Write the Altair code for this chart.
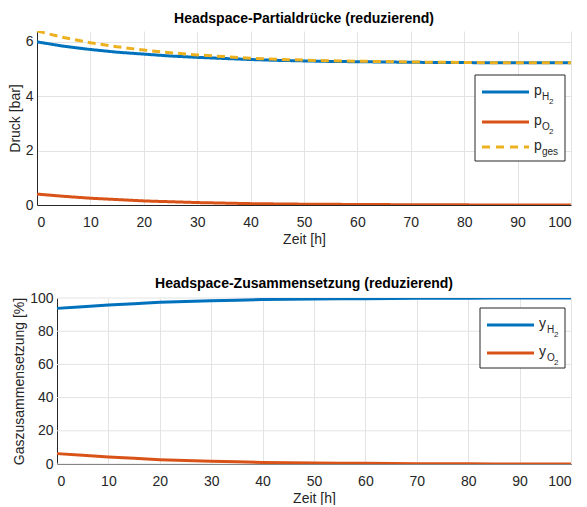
import altair as alt
import pandas as pd

# ---- data ----
t = [0, 5, 10, 15, 20, 25, 30, 35, 40, 45, 50, 55, 60, 65, 70, 75, 80, 85, 90, 95, 100]
p_h2 = [6.00, 5.84, 5.72, 5.62, 5.55, 5.48, 5.43, 5.39, 5.35, 5.32, 5.30, 5.28, 5.27, 5.26,
        5.25, 5.24, 5.24, 5.23, 5.23, 5.23, 5.23]
p_o2 = [0.40, 0.32, 0.25, 0.20, 0.15, 0.12, 0.09, 0.07, 0.05, 0.04, 0.03, 0.025, 0.02, 0.015,
        0.01, 0.008, 0.005, 0.003, 0.002, 0.001, 0.0]
p_ges = [6.40, 6.16, 5.97, 5.82, 5.70, 5.60, 5.52, 5.46, 5.40, 5.36, 5.33, 5.305, 5.29, 5.275,
         5.26, 5.248, 5.245, 5.233, 5.232, 5.231, 5.23]
y_h2 = [93.75, 94.8, 95.8, 96.6, 97.4, 97.9, 98.4, 98.7, 99.1, 99.25, 99.44, 99.53, 99.62,
        99.72, 99.81, 99.85, 99.9, 99.94, 99.96, 99.98, 100.0]
y_o2 = [6.25, 5.2, 4.2, 3.4, 2.6, 2.1, 1.6, 1.3, 0.9, 0.75, 0.56, 0.47, 0.38, 0.28, 0.19,
        0.15, 0.1, 0.06, 0.04, 0.02, 0.0]

x_ticks = [0, 10, 20, 30, 40, 50, 60, 70, 80, 90, 100]
top_y_ticks = [0, 2, 4, 6]
bot_y_ticks = [0, 20, 40, 60, 80, 100]

BLUE, RED, YELLOW = "#0072BD", "#D95319", "#EDB120"
GRID = "#e3e3e3"
FONT = "Liberation Sans"

top_df = pd.DataFrame(
    {"t": t * 3,
     "v": p_h2 + p_o2 + p_ges,
     "s": ["pH2"] * len(t) + ["pO2"] * len(t) + ["pges"] * len(t)}
)
bot_df = pd.DataFrame(
    {"t": t * 2,
     "v": y_h2 + y_o2,
     "s": ["yH2"] * len(t) + ["yO2"] * len(t)}
)

W = 534          # both panels end at the same right edge
SHIFT = 20       # lower panel's axes start further right
TH, BH = 174, 166


def legend(box, items):
    # box: (x0, y0, x1, y1) in pixels relative to plot area; items: (color, dash, main, sub1, sub2, y)
    one = pd.DataFrame({"a": [0]})
    x0, y0, x1, y1 = box
    layers = [
        alt.Chart(one).mark_rect(fill="white", stroke="#262626", strokeWidth=1).encode(
            x=alt.value(x0), x2=alt.value(x1), y=alt.value(y0), y2=alt.value(y1))
    ]
    for color, dash, main, sub1, sub2, yy in items:
        layers.append(alt.Chart(one).mark_rule(color=color, strokeWidth=3, strokeDash=dash).encode(
            x=alt.value(x0 + 7), x2=alt.value(x0 + 54), y=alt.value(yy)))
        tx = x0 + 59
        layers.append(alt.Chart(one).mark_text(text=main, font=FONT, fontSize=14, align="left",
                                               baseline="alphabetic", color="#262626").encode(
            x=alt.value(tx), y=alt.value(yy + 3)))
        layers.append(alt.Chart(one).mark_text(text=sub1, font=FONT, fontSize=10, align="left",
                                               baseline="alphabetic", color="#262626").encode(
            x=alt.value(tx + 8), y=alt.value(yy + 8)))
        if sub2:
            layers.append(alt.Chart(one).mark_text(text=sub2, font=FONT, fontSize=8, align="left",
                                                   baseline="alphabetic", color="#262626").encode(
                x=alt.value(tx + 15), y=alt.value(yy + 12)))
    return layers


# ---- top panel ----
top_lines = alt.Chart(top_df).mark_line(strokeWidth=3, clip=True).encode(
    x=alt.X("t:Q", scale=alt.Scale(domain=[0, 100], nice=False),
            axis=alt.Axis(values=x_ticks, title="Zeit [h]")),
    y=alt.Y("v:Q", scale=alt.Scale(domain=[0, 6.4], nice=False),
            axis=alt.Axis(values=top_y_ticks, title="Druck [bar]")),
    color=alt.Color("s:N", scale=alt.Scale(domain=["pH2", "pO2", "pges"],
                                           range=[BLUE, RED, YELLOW]), legend=None),
    strokeDash=alt.StrokeDash("s:N", scale=alt.Scale(domain=["pH2", "pO2", "pges"],
                                                     range=[[1, 0], [1, 0], [8, 5]]), legend=None),
    order=alt.Order("t:Q"),
)

top = alt.layer(
    top_lines,
    *legend((W - 96, 44, W - 6, 130),
            [(BLUE, [1, 0], "p", "H", "2", 61),
             (RED, [1, 0], "p", "O", "2", 91),
             (YELLOW, [8, 6], "p", "ges", "", 116)]),
).properties(width=W, height=TH,
             title=alt.TitleParams("Headspace-Partialdrücke (reduzierend)", anchor="middle",
                                   frame="group", offset=5))

# ---- bottom panel ----
xs_b = alt.Scale(domain=[0, 100], nice=False, range=[SHIFT, W])
ys_b = alt.Scale(domain=[0, 100], nice=False)
xa_b = alt.Axis(values=x_ticks, title="Zeit [h]")
ya_b = alt.Axis(values=bot_y_ticks, title="Gaszusammensetzung [%]", grid=False,
                offset=-SHIFT, labelOverlap=False)

grid_df = pd.DataFrame({"g": bot_y_ticks, "a": [0] * len(bot_y_ticks), "b": [100] * len(bot_y_ticks)})
bot_grid = alt.Chart(grid_df).mark_rule(color=GRID, strokeWidth=1).encode(
    x=alt.X("a:Q", scale=xs_b, axis=xa_b), x2="b:Q", y=alt.Y("g:Q", scale=ys_b, axis=ya_b))

bot_lines = alt.Chart(bot_df).mark_line(strokeWidth=3, clip=True).encode(
    x=alt.X("t:Q", scale=xs_b, axis=xa_b),
    y=alt.Y("v:Q", scale=ys_b, axis=ya_b),
    color=alt.Color("s:N", scale=alt.Scale(domain=["yH2", "yO2"], range=[BLUE, RED]), legend=None),
    order=alt.Order("t:Q"),
)

bot = alt.layer(
    bot_grid,
    bot_lines,
    *legend((W - 91, 10, W - 6, 70),
            [(BLUE, [1, 0], "y", "H", "2", 27),
             (RED, [1, 0], "y", "O", "2", 55)]),
).properties(width=W, height=BH,
             title=alt.TitleParams("Headspace-Zusammensetzung (reduzierend)", anchor="middle",
                                   frame="group", offset=0))

chart = alt.vconcat(top, bot, spacing=31).properties(
    padding={"left": 0, "top": 4, "right": 0, "bottom": 0}
).configure_view(stroke=None).configure_axis(
    labelFont=FONT, titleFont=FONT, labelFontSize=14, titleFontSize=14,
    labelColor="#262626", titleColor="#262626", titleFontWeight="normal",
    gridColor=GRID, domainColor="#262626", domainWidth=1,
    ticks=False, labelPadding=10, titlePadding=3,
).configure_axisY(titlePadding=3, labelPadding=4).configure_title(
    font=FONT, fontSize=14, fontWeight="bold", color="#000000"
)

chart.save("out.html", embed_options={"renderer": "svg", "actions": False})
